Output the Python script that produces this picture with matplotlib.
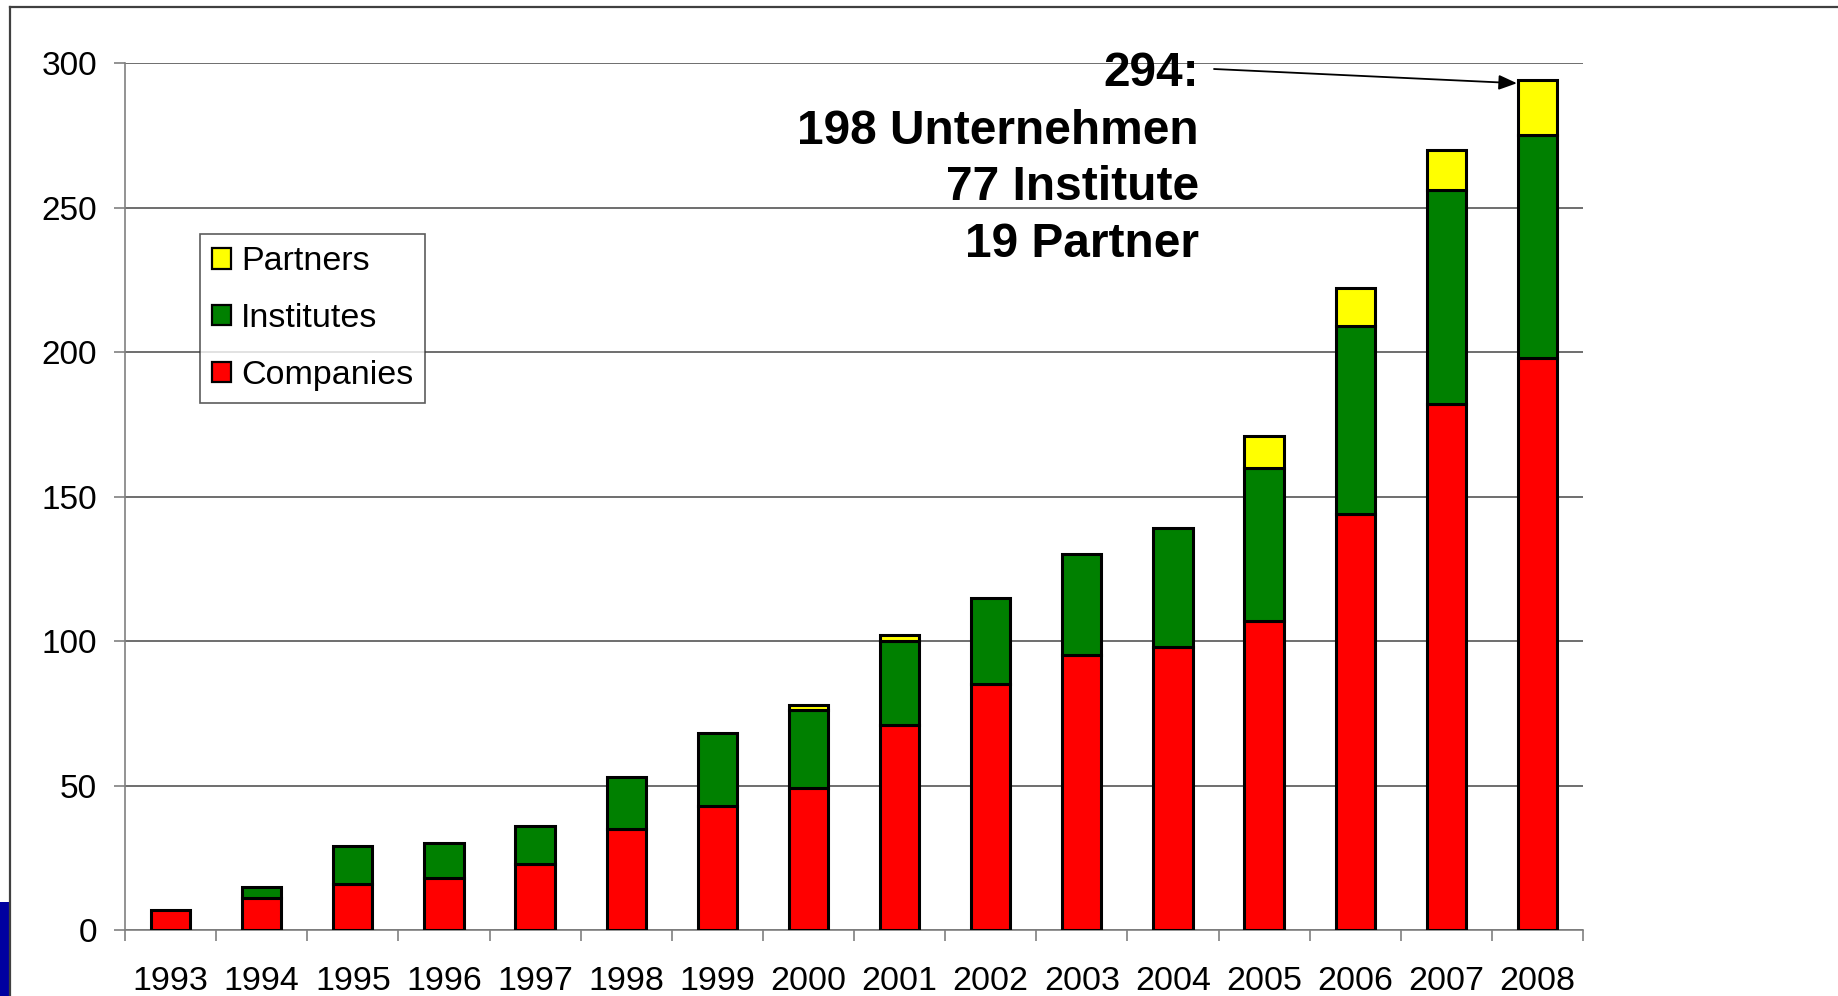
import matplotlib
matplotlib.use("Agg")
import matplotlib.pyplot as plt
from matplotlib.patches import Rectangle
from matplotlib.lines import Line2D
import numpy as np

years = ["1993", "1994", "1995", "1996", "1997", "1998", "1999", "2000",
         "2001", "2002", "2003", "2004", "2005", "2006", "2007", "2008"]
companies = [7, 11, 16, 18, 23, 35, 43, 49, 71, 85, 95, 98, 107, 144, 182, 198]
institutes = [0, 4, 13, 12, 13, 18, 25, 27, 29, 30, 35, 41, 53, 65, 74, 77]
partners = [0, 0, 0, 0, 0, 0, 0, 2, 2, 0, 0, 0, 11, 13, 14, 19]
series_names = ["Companies", "Institutes", "Partners"]
series_colors = ["#FF0000", "#008000", "#FFFF00"]
y_ticks = [0, 50, 100, 150, 200, 250, 300]
annot_lines = ["294:", "198 Unternehmen", "77 Institute", "19 Partner"]

plt.rcParams['font.family'] = ['Liberation Sans', 'DejaVu Sans']

W, H = 1838, 996
fig = plt.figure(figsize=(W / 100, H / 100), dpi=100)
fig.patch.set_facecolor("white")

def fx(px):
    return px / W

def fy(py):
    return 1 - py / H

ax = fig.add_axes([fx(125), fy(930), fx(1583) - fx(125), fy(63) - fy(930)])
x = np.arange(len(years))
bw = 0.43
bottom = np.zeros(len(years))
handles = []
for vals, name, col in zip([companies, institutes, partners], series_names, series_colors):
    v = np.array(vals, dtype=float)
    mask = v > 0
    b = ax.bar(x[mask], v[mask], bw, bottom=bottom[mask], color=col,
               edgecolor="black", linewidth=2.2, zorder=3, label=name)
    handles.append(b)
    bottom += v

ax.set_xlim(-0.5, len(years) - 0.5)
ax.set_ylim(0, 300)
ax.set_yticks(y_ticks)
ax.set_yticklabels([str(t) for t in y_ticks], fontsize=24)
ax.yaxis.grid(True, color="#555555", linewidth=1.2, zorder=0)
ax.set_axisbelow(True)
ax.tick_params(axis='y', length=8, width=1.2, color="#808080", pad=12, direction='out')

ax.set_xticks(x)
ax.set_xticklabels(years, fontsize=24.5)
ax.set_xticks(np.arange(-0.5, len(years), 1.0), minor=True)
ax.tick_params(axis='x', which='major', length=0, pad=26)
ax.tick_params(axis='x', which='minor', length=8, width=1.2, color="#808080", direction='out')

for s in ["top", "right"]:
    ax.spines[s].set_visible(False)
for s in ["left", "bottom"]:
    ax.spines[s].set_color("#808080")
    ax.spines[s].set_linewidth(1.2)

# legend (Partners on top)
leg = ax.legend(handles[::-1], series_names[::-1], loc="upper left",
                bbox_to_anchor=(fx(200), fy(234)), bbox_transform=fig.transFigure,
                fontsize=24.5, frameon=True, fancybox=False, edgecolor="#333333",
                handlelength=0.56, handleheight=0.56, handletextpad=0.28,
                labelspacing=0.76, borderpad=0.36, borderaxespad=0)
leg.get_frame().set_linewidth(1.2)
for p in leg.get_patches():
    p.set_linewidth(1.6)

# annotation text
baselines = [86, 144, 200, 257]
for line, by in zip(annot_lines, baselines):
    fig.text(fx(1199), fy(by), line, ha="right", va="baseline",
             fontsize=34.5, fontweight="bold")

ax.annotate("", xy=(len(years) - 1 - bw / 2 - 0.01, 293),
            xytext=(fx(1214), fy(69)), textcoords="figure fraction",
            arrowprops=dict(arrowstyle="-|>,head_length=1.1,head_width=0.45",
                            color="black", lw=1.3, shrinkA=0, shrinkB=0))

# outer frame and blue corner
fig.add_artist(Line2D([fx(10), 1.0], [fy(7), fy(7)], color="#404040", linewidth=1.6))
fig.add_artist(Line2D([fx(10), fx(10)], [fy(7), 0.0], color="#404040", linewidth=1.6))
fig.add_artist(Rectangle((0, 0), fx(9), fy(902), transform=fig.transFigure,
                         facecolor="#0000A0", edgecolor="none"))

fig.savefig("out.png", dpi=100)
